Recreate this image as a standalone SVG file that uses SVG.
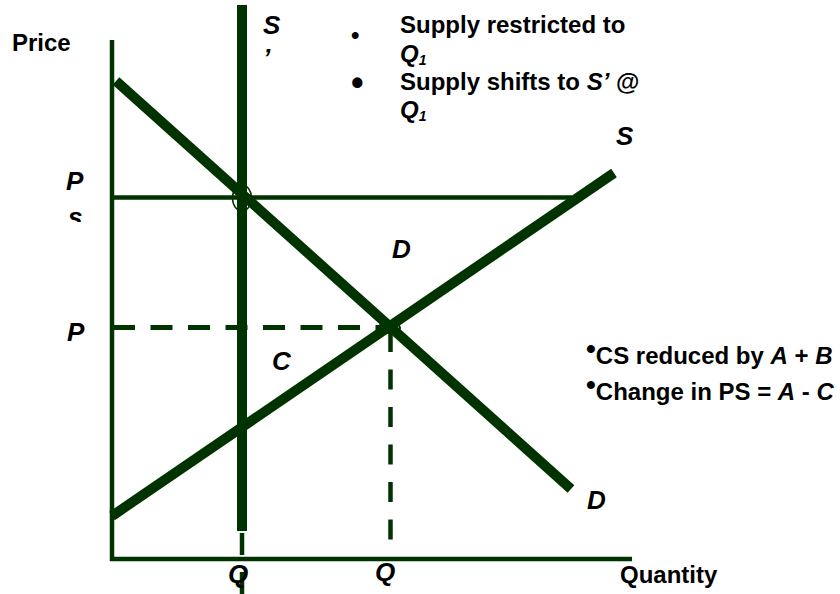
<svg xmlns="http://www.w3.org/2000/svg" width="840" height="594" viewBox="0 0 840 594">
  <style>
    .ln { stroke: #003300; fill: none; stroke-linecap: butt; }
    .axis { stroke-width: 4.5; }
    .thick { stroke-width: 10; }
    .thin { stroke-width: 4.5; }
    .dash { stroke-width: 5; stroke-dasharray: 22 15.5; }
    .t { font-family: "Liberation Sans", Arial, sans-serif; font-size: 24px; font-weight: bold; fill: #000; }
    .i { font-style: italic; }
    .lbl { font-size: 26px; font-style: italic; }
    .sub { font-size: 14px; font-style: italic; }
    .bul { font-size: 36px; }
    .bul2 { font-size: 28px; }
  </style>
  <defs>
    <clipPath id="clipS"><rect x="50" y="200" width="60" height="22"/></clipPath>
  </defs>
  <rect width="840" height="594" fill="#fff"/>

  <g id="connectors">
    <!-- axes -->
    <path class="ln axis" d="M112,40 V559 H632"/>
    <!-- Ps horizontal -->
    <line class="ln thin" x1="112" y1="197.5" x2="572" y2="197.5"/>
    <!-- P dashed horizontal -->
    <line class="ln dash" x1="113" y1="327.5" x2="390" y2="327.5"/>
    <!-- Q dashed vertical -->
    <line class="ln thin" x1="390.5" y1="332" x2="390.5" y2="559" stroke-dasharray="20 17.5"/>
    <!-- S' vertical -->
    <line class="ln thick" x1="242" y1="5" x2="242" y2="531"/>
    <line class="ln thin" x1="242" y1="533" x2="242" y2="555"/>
    <line class="ln thin" x1="242" y1="572" x2="242" y2="594"/>
    <!-- Demand -->
    <line class="ln thick" x1="116" y1="81" x2="571" y2="489"/>
    <!-- Supply -->
    <line class="ln thick" x1="112" y1="516" x2="614" y2="173"/>
    <!-- circles at intersections -->
    <ellipse class="ln" cx="242" cy="198" rx="9.5" ry="13" stroke-width="1.5"/>
    <ellipse class="ln" cx="389" cy="328" rx="11" ry="5" stroke-width="2"/>
  </g>

  <g id="axis-labels">
    <text class="t" x="12" y="50.5">Price</text>
    <text class="t" x="620" y="583">Quantity</text>
    <text class="t lbl" x="228" y="583">Q</text>
    <text class="t lbl" x="375" y="581">Q</text>
    <text class="t lbl" x="66" y="190">P</text>
    <text class="t lbl" x="68" y="226" clip-path="url(#clipS)">s</text>
    <text class="t lbl" x="67" y="341">P</text>
  </g>

  <g id="curve-labels">
    <text class="t lbl" x="263" y="34">S</text>
    <text class="t lbl" x="263" y="67">’</text>
    <text class="t lbl" x="616" y="145">S</text>
    <text class="t lbl" x="392" y="258">D</text>
    <text class="t lbl" x="587" y="509">D</text>
    <text class="t lbl" x="272" y="370">C</text>
  </g>

  <g id="notes-top">
    <text class="t" x="351" y="42.5">•</text>
    <text class="t" x="400" y="33">Supply restricted to</text>
    <text class="t" x="400" y="62"><tspan class="i">Q</tspan><tspan class="sub" dy="3">1</tspan></text>
    <text class="t bul" x="351" y="94.5">•</text>
    <text class="t" x="400" y="90">Supply shifts to <tspan class="i">S’</tspan> @</text>
    <text class="t" x="400" y="118"><tspan class="i">Q</tspan><tspan class="sub" dy="3">1</tspan></text>
  </g>

  <g id="notes-right">
    <text class="t" x="586" y="358"><tspan class="bul2">•</tspan><tspan dy="6">CS reduced by </tspan><tspan class="i">A</tspan> + <tspan class="i">B</tspan></text>
    <text class="t" x="586" y="394"><tspan class="bul2">•</tspan><tspan dy="6">Change in PS = </tspan><tspan class="i">A</tspan> - <tspan class="i">C</tspan></text>
  </g>
</svg>
